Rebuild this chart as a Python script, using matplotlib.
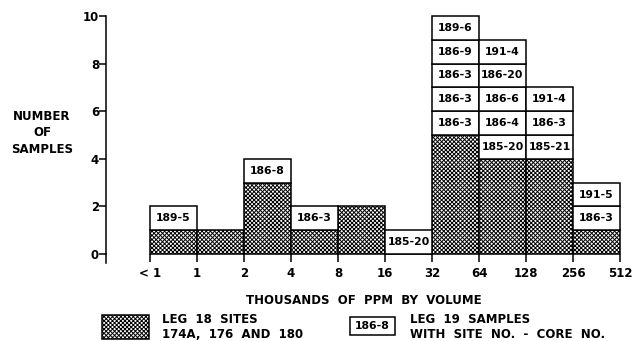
import numpy as np
import matplotlib
matplotlib.use('Agg')
import matplotlib.pyplot as plt
from matplotlib.patches import Rectangle

plt.rcParams['font.family'] = ['DejaVu Sans']
plt.rcParams['font.weight'] = 'bold'
plt.rcParams['hatch.linewidth'] = 0.7

# bin edge labels (thousands of ppm by volume)
edge_labels = ['< 1', '1', '2', '4', '8', '16', '32', '64', '128', '256', '512']
# Leg 18 counts per bin (hatched)
leg18 = [1, 1, 3, 1, 2, 0, 5, 4, 4, 1]
# Leg 19 samples per bin, bottom to top (site no. - core no.)
leg19 = [
    ['189-5'],
    [],
    ['186-8'],
    ['186-3'],
    [],
    ['185-20'],
    ['186-3', '186-3', '186-3', '186-9', '189-6'],
    ['185-20', '186-4', '186-6', '186-20', '191-4'],
    ['185-21', '186-3', '191-4'],
    ['186-3', '191-5'],
]
yticks = [0, 2, 4, 6, 8, 10]

fig = plt.figure(figsize=(6.35, 3.41), dpi=100)
ax = fig.add_axes([106 / 635, 1 - 254 / 341, 514 / 635, 238 / 341])

x0 = -44 / 47  # y axis sits left of the first bin
ax.set_xlim(x0, 10)
ax.set_ylim(0, 10)

lw = 1.1
hatch = 'xxxxxxxx'
# hatched Leg 18 bars
ax.bar(np.arange(10), leg18, width=1, align='edge', facecolor='white',
       edgecolor='black', hatch=hatch, linewidth=lw, clip_on=False, zorder=2)
# stacked Leg 19 boxes
for i, samples in enumerate(leg19):
    for k, s in enumerate(samples):
        ax.bar(i, 1, bottom=leg18[i] + k, width=1, align='edge', facecolor='white',
               edgecolor='black', linewidth=lw, clip_on=False, zorder=2)
        ax.text(i + 0.5, leg18[i] + k + 0.5, s, ha='center', va='center',
                fontsize=7.8, fontweight='bold', zorder=3)

for sp in ['top', 'right', 'bottom']:
    ax.spines[sp].set_visible(False)
ax.spines['left'].set_linewidth(lw)
# left axis runs a little below zero
ax.plot([x0, x0], [0, -0.36], color='black', linewidth=lw, clip_on=False)

ax.set_yticks(yticks)
ax.set_yticklabels([str(v) for v in yticks], fontsize=8.5, fontweight='bold')
ax.tick_params(axis='y', direction='out', length=5, width=lw, pad=0)
ax.set_xticks(np.arange(11))
ax.set_xticklabels(edge_labels, fontsize=8.5, fontweight='bold')
ax.tick_params(axis='x', direction='out', length=6, width=lw, pad=3.5)

fig.text(42 / 635, 1 - 133 / 341, 'NUMBER\nOF\nSAMPLES', ha='center', va='center',
         fontsize=8.5, fontweight='bold', linespacing=1.35)
fig.text(364 / 635, 1 - 300 / 341, 'THOUSANDS  OF  PPM  BY  VOLUME', ha='center',
         va='center', fontsize=8.5, fontweight='bold')

# legend
fig.add_artist(Rectangle((102 / 635, 1 - 339 / 341), 47 / 635, 24 / 341,
                         transform=fig.transFigure, facecolor='white',
                         edgecolor='black', hatch=hatch, linewidth=lw))
fig.text(162 / 635, 1 - 327 / 341, 'LEG  18  SITES\n174A,  176  AND  180', ha='left',
         va='center', fontsize=8.5, fontweight='bold', linespacing=1.2)
fig.add_artist(Rectangle((350 / 635, 1 - 335 / 341), 45 / 635, 18 / 341,
                         transform=fig.transFigure, facecolor='white',
                         edgecolor='black', linewidth=lw))
fig.text(372.5 / 635, 1 - 326 / 341, '186-8', ha='center', va='center',
         fontsize=7.8, fontweight='bold')
fig.text(410 / 635, 1 - 327 / 341, 'LEG  19  SAMPLES\nWITH  SITE  NO.  -  CORE  NO.',
         ha='left', va='center', fontsize=8.5, fontweight='bold', linespacing=1.2)

fig.savefig('out.png', dpi=100, facecolor='white')
